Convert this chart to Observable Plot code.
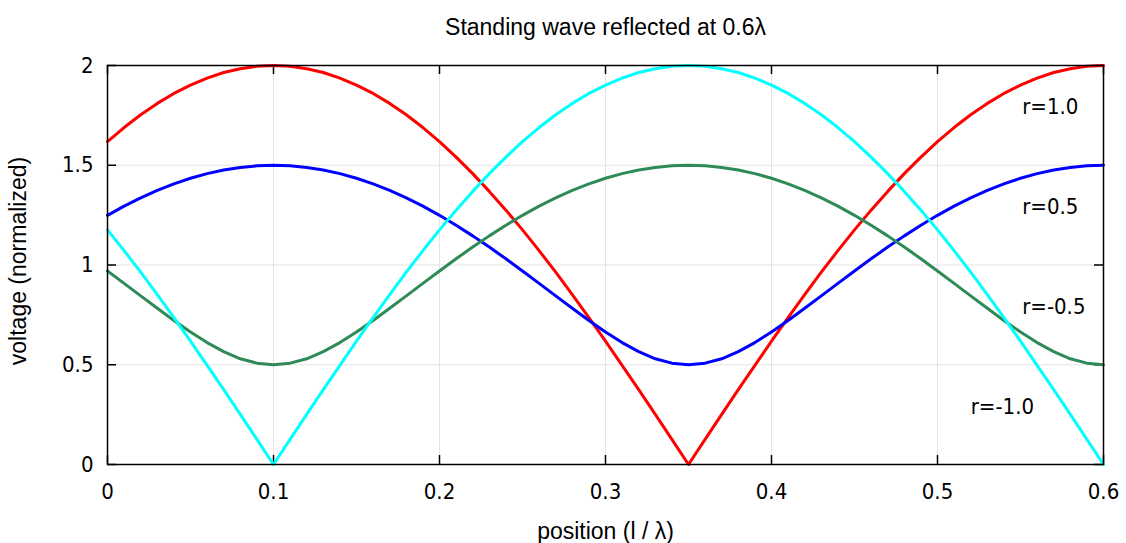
<!DOCTYPE html>
<html>
<head>
<meta charset="utf-8">
<script src="https://cdn.jsdelivr.net/npm/d3@7"></script>
<script src="https://cdn.jsdelivr.net/npm/@observablehq/plot@0.6"></script>
<style>
  html, body { margin: 0; padding: 0; background: #fff; }
  #chart svg { display: block; }
</style>
</head>
<body>
<div id="chart"></div>
<script>
// position (l / λ), sampled every 0.01 from 0 to 0.6
const positions = d3.range(61).map(i => +(i / 100).toFixed(2));

// voltage (normalized)
const r1p0 = [1.618,1.689,1.753,1.810,1.860,1.902,1.937,1.965,1.984,1.996,2.000,
  1.996,1.984,1.965,1.937,1.902,1.860,1.810,1.753,1.689,1.618,
  1.541,1.458,1.369,1.275,1.176,1.072,0.964,0.852,0.736,0.618,
  0.497,0.375,0.251,0.126,0.000,0.126,0.251,0.375,0.497,0.618,
  0.736,0.852,0.964,1.072,1.176,1.275,1.369,1.458,1.541,1.618,
  1.689,1.753,1.810,1.860,1.902,1.937,1.965,1.984,1.996,2.000];
const r0p5 = [1.249,1.295,1.336,1.374,1.407,1.435,1.458,1.476,1.489,1.497,1.500,
  1.497,1.489,1.476,1.458,1.435,1.407,1.374,1.336,1.295,1.249,
  1.199,1.146,1.090,1.031,0.970,0.908,0.845,0.783,0.722,0.664,
  0.611,0.566,0.530,0.508,0.500,0.508,0.530,0.566,0.611,0.664,
  0.722,0.783,0.845,0.908,0.970,1.031,1.090,1.146,1.199,1.249,
  1.295,1.336,1.374,1.407,1.435,1.458,1.476,1.489,1.497,1.500];
const rm0p5 = [0.970,0.908,0.845,0.783,0.722,0.664,0.611,0.566,0.530,0.508,0.500,
  0.508,0.530,0.566,0.611,0.664,0.722,0.783,0.845,0.908,0.970,
  1.031,1.090,1.146,1.199,1.249,1.295,1.336,1.374,1.407,1.435,
  1.458,1.476,1.489,1.497,1.500,1.497,1.489,1.476,1.458,1.435,
  1.407,1.374,1.336,1.295,1.249,1.199,1.146,1.090,1.031,0.970,
  0.908,0.845,0.783,0.722,0.664,0.611,0.566,0.530,0.508,0.500];
const rm1p0 = [1.176,1.072,0.964,0.852,0.736,0.618,0.497,0.375,0.251,0.126,0.000,
  0.126,0.251,0.375,0.497,0.618,0.736,0.852,0.964,1.072,1.176,
  1.275,1.369,1.458,1.541,1.618,1.689,1.753,1.810,1.860,1.902,
  1.937,1.965,1.984,1.996,2.000,1.996,1.984,1.965,1.937,1.902,
  1.860,1.810,1.753,1.689,1.618,1.541,1.458,1.369,1.275,1.176,
  1.072,0.964,0.852,0.736,0.618,0.497,0.375,0.251,0.126,0.000];

const seriesNames = ["r=1.0", "r=0.5", "r=-0.5", "r=-1.0"];
const seriesValues = [r1p0, r0p5, rm0p5, rm1p0];
const seriesColors = ["#ff0000", "#0000ff", "#2e8b57", "#00ffff"];

// in-plot key labels (data coordinates)
const labelText = ["r=1.0", "r=0.5", "r=-0.5", "r=-1.0"];
const labelX = [0.551, 0.551, 0.551, 0.520];
const labelY = [1.79, 1.29, 0.79, 0.29];

const xTicks = [0, 0.1, 0.2, 0.3, 0.4, 0.5, 0.6];
const yTicks = [0, 0.5, 1, 1.5, 2];
const xTickLabels = ["0", "0.1", "0.2", "0.3", "0.4", "0.5", "0.6"];
const yTickLabels = ["0", "0.5", "1", "1.5", "2"];

const title = "Standing wave reflected at 0.6λ";
const xLabel = "position (l / λ)";
const yLabel = "voltage (normalized)";

const rows = seriesNames.flatMap((name, s) =>
  positions.map((x, i) => ({series: name, x, v: seriesValues[s][i]})));
const labels = labelText.map((t, i) => ({t, x: labelX[i], y: labelY[i]}));

const W = 1126, H = 543;
const mL = 107, mR = 23, mT = 65, mB = 79;
const fw = W - mL - mR, fh = H - mT - mB;
const tick = 9;
const tickFont = "'DejaVu Sans Condensed', 'DejaVu Sans', sans-serif";
const labFont = "'Liberation Sans', Arial, sans-serif";

const chart = Plot.plot({
  width: W, height: H,
  marginLeft: mL, marginRight: mR, marginTop: mT, marginBottom: mB,
  style: {fontFamily: tickFont, fontSize: "22px", background: "#fff", color: "#000"},
  x: {domain: [0, 0.6]},
  y: {domain: [0, 2]},
  color: {domain: seriesNames, range: seriesColors},
  marks: [
    Plot.gridX(xTicks, {stroke: "#e4e4e4", strokeOpacity: 1, strokeWidth: 1}),
    Plot.gridY(yTicks, {stroke: "#e4e4e4", strokeOpacity: 1, strokeWidth: 1}),
    Plot.tickX(xTicks, {x: d => d, insetTop: fh - tick, stroke: "#000", strokeWidth: 1.5}),
    Plot.tickX(xTicks, {x: d => d, insetBottom: fh - tick, stroke: "#000", strokeWidth: 1.5}),
    Plot.tickY(yTicks, {y: d => d, insetRight: fw - tick, stroke: "#000", strokeWidth: 1.5}),
    Plot.tickY(yTicks, {y: d => d, insetLeft: fw - tick, stroke: "#000", strokeWidth: 1.5}),
    Plot.axisX(xTicks, {tickSize: 0, tickPadding: 19, tickFormat: (d, i) => xTickLabels[i], fontSize: 22, label: null}),
    Plot.axisY(yTicks, {tickSize: 0, tickPadding: 14, tickFormat: (d, i) => yTickLabels[i], fontSize: 22, label: null}),
    Plot.line(rows, {x: "x", y: "v", z: "series", stroke: "series", strokeWidth: 3, strokeLinejoin: "round"}),
    Plot.frame({stroke: "#000", strokeWidth: 1.5}),
    Plot.text(labels, {x: "x", y: "y", text: "t", textAnchor: "start", fontSize: 22, fill: "#000"}),
    Plot.text([title], {frameAnchor: "top", dy: -38, textAnchor: "middle", lineAnchor: "middle", fontSize: 23, fontFamily: labFont, fill: "#000"}),
    Plot.text([xLabel], {frameAnchor: "bottom", dy: 67, textAnchor: "middle", lineAnchor: "middle", fontSize: 23, fontFamily: labFont, fill: "#000"}),
    Plot.text([yLabel], {frameAnchor: "left", dx: -89, dy: -4, rotate: -90, textAnchor: "middle", lineAnchor: "middle", fontSize: 23, fontFamily: labFont, fill: "#000"})
  ]
});
document.getElementById("chart").appendChild(chart);
</script>
</body>
</html>
